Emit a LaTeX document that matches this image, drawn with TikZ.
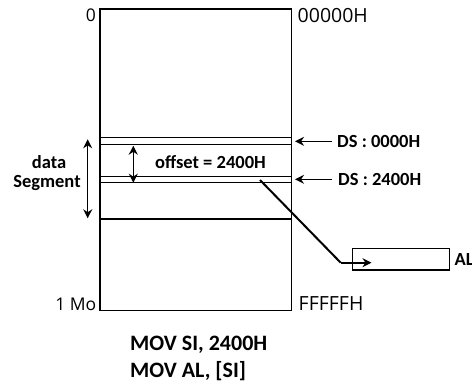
\documentclass[tikz,border=0pt]{standalone}
\usepackage{fontspec}
\newfontfamily\cb{Carlito}
\newfontfamily\op{Open Sans}
\usetikzlibrary{arrows.meta}
\begin{document}
\begin{tikzpicture}[x=1pt,y=-1pt,
  box/.style={draw,line width=1.2pt,inner sep=0pt},
  bl/.style={font=\cb\bfseries\fontsize{18.5}{20}\selectfont,inner sep=1pt},
  rl/.style={font=\op\fontsize{17.5}{20}\selectfont,inner sep=1pt},
  hl/.style={font=\op\fontsize{19.5}{20}\selectfont,inner sep=1pt},
  bot/.style={font=\cb\bfseries\fontsize{22}{24}\selectfont,inner sep=0pt,anchor=west},
  arr/.style={line width=1.5pt,-{Stealth[length=9pt,width=9pt]}},
  darr/.style={line width=1.5pt,{Stealth[length=9pt,width=9pt]}-{Stealth[length=9pt,width=9pt]}},
  sep/.style={line width=1.2pt}]
\useasboundingbox (0,0) rectangle (472,383);
\fill[white] (0,0) rectangle (472,383);
% memory block
\node[box,minimum width=191.7pt,minimum height=301.7pt] (mem) at (195.85,159.85) {};
\draw[sep] (100,137.7) -- (291.7,137.7);
\draw[sep] (100,144.3) -- (291.7,144.3);
\draw[sep] (100,176.7) -- (291.7,176.7);
\draw[sep] (100,182.7) -- (291.7,182.7);
\draw[sep] (100,219) -- (291.7,219);
% address labels
\node[rl,anchor=east] (z) at (97,15.7) {0};
\node[hl,anchor=west] (zh) at (296.5,15.7) {00000H};
\node[rl,anchor=east] (mo) at (97.5,304) {1 Mo};
\node[hl,anchor=west] (fh) at (297.5,304) {FFFFFH};
% DS labels
\node[bl,anchor=west] (ds0) at (336,141.3) {DS : 0000H};
\node[bl,anchor=west] (ds1) at (337,179.3) {DS : 2400H};
\coordinate (e0) at (295,141.3);
\coordinate (e1) at (295,179.3);
\draw[arr] ([xshift=-4pt]ds0.west) -- (e0);
\draw[arr] ([xshift=-5pt]ds1.west) -- (e1);
% offset
\coordinate (ot) at (133.3,145.7);
\coordinate (ob) at (133.3,182.7);
\draw[darr] (ot) -- (ob);
\node[bl,anchor=west] (off) at (154,161.7) {offset = 2400H};
% data segment
\coordinate (st) at (87.7,139.3);
\coordinate (sb) at (87.7,218.3);
\draw[darr] (st) -- (sb);
\node[bl] (data) at (49,161.7) {data};
\node[bl] (seg) at (47,183.3) {Segment};
% AL register
\node[draw,line width=1.2pt,inner sep=0pt,minimum width=97pt,minimum height=21.7pt] (al) at (400.8,259.2) {};
\node[bl,anchor=west] (alt) at (453.5,259.5) {AL};
\coordinate (src) at (260,180);
\coordinate (bend) at (340.7,262.7);
\coordinate (tip) at (371.5,262.7);
\draw[line width=2pt] (src) -- (bend);
\draw[line width=2pt,-{Stealth[length=9pt,width=9pt]}] (bend) -- (tip);
% code
\node[bot] (c1) at (130,345) {MOV SI, 2400H};
\node[bot] (c2) at (130,370.7) {MOV AL, [SI]};
\end{tikzpicture}
\end{document}
